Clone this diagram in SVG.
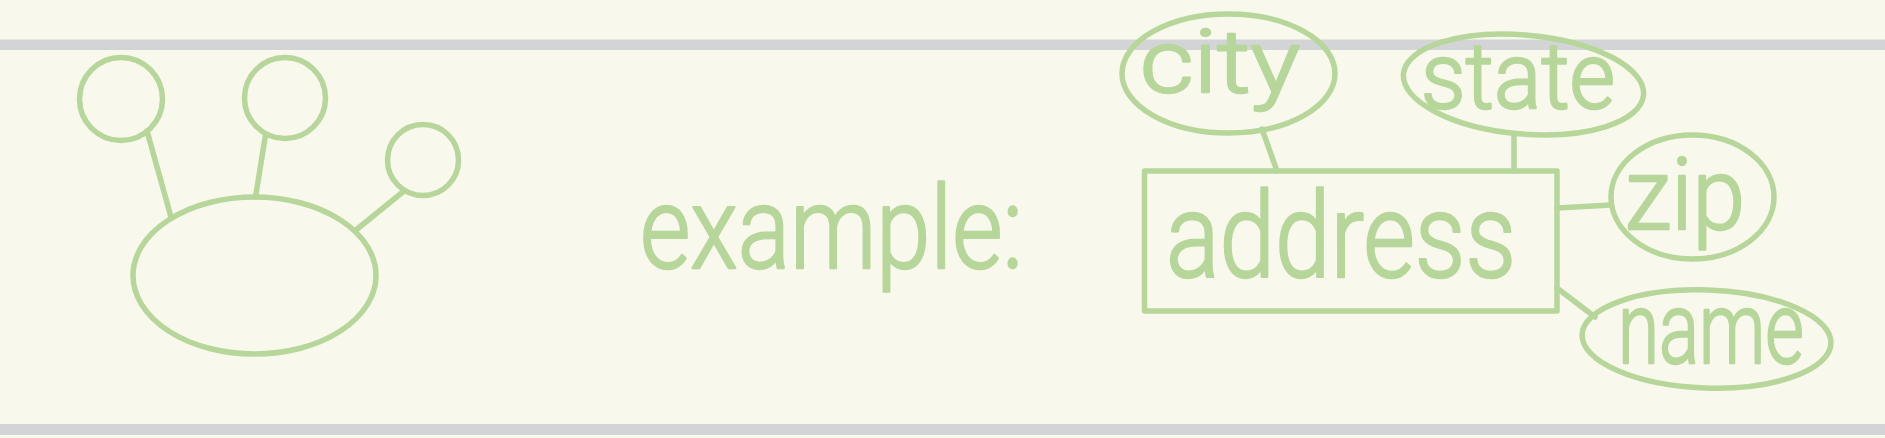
<svg xmlns="http://www.w3.org/2000/svg" width="1885" height="438" viewBox="0 0 1885 438">
<style>
.s{fill:none;stroke:#b6d69a;stroke-width:5.5;stroke-linecap:round;stroke-linejoin:round}
.t{fill:#b6d69a;stroke:#b6d69a;stroke-width:2.5;stroke-linejoin:round;font-family:Roboto,"Open Sans","Liberation Sans",sans-serif;font-weight:300}
.bar{fill:#d3d4d6}
</style>
<rect width="1885" height="438" fill="#f9f8ec"/>
<rect class="bar" x="0" y="39.5" width="1885" height="10.5"/>
<rect class="bar" x="0" y="424" width="1885" height="11"/>

<g id="connectors" class="s">
  <line x1="147" y1="131" x2="171" y2="217"/>
  <line x1="265.5" y1="135" x2="255.5" y2="197"/>
  <line x1="404" y1="191" x2="356" y2="230"/>
  <line x1="1262" y1="129" x2="1277" y2="171"/>
  <line x1="1514" y1="134" x2="1514" y2="171"/>
  <line x1="1557" y1="208" x2="1611" y2="205"/>
  <line x1="1557" y1="288" x2="1595" y2="317"/>
</g>

<g id="node-circle-1"><circle class="s" cx="121" cy="99" r="41.5"/></g>
<g id="node-circle-2"><circle class="s" cx="285" cy="98" r="40.5"/></g>
<g id="node-circle-3"><circle class="s" cx="423" cy="160" r="35.5"/></g>
<g id="node-ellipse-main"><ellipse class="s" cx="254.5" cy="275.5" rx="121.5" ry="78.5"/></g>

<g id="label-example"><text class="t" x="640" y="268" font-size="115" textLength="383" lengthAdjust="spacingAndGlyphs">example:</text></g>

<g id="node-address">
  <rect class="s" x="1144.5" y="171" width="412.5" height="140"/>
  <text class="t" x="1166" y="277" font-size="118" textLength="350" lengthAdjust="spacingAndGlyphs">address</text>
</g>
<g id="node-city">
  <ellipse class="s" cx="1228.5" cy="73.5" rx="106.5" ry="59.5"/>
  <text class="t" x="1140" y="92" font-size="88" textLength="160" lengthAdjust="spacingAndGlyphs">city</text>
</g>
<g id="node-state">
  <ellipse class="s" cx="1523.5" cy="84.5" rx="120.5" ry="49.5" transform="rotate(5 1523.5 84.5)"/>
  <text class="t" x="1421" y="108" font-size="92" textLength="194" lengthAdjust="spacingAndGlyphs">state</text>
</g>
<g id="node-zip">
  <ellipse class="s" cx="1692.5" cy="197" rx="81.5" ry="62"/>
  <text class="t" x="1625" y="229" font-size="100" textLength="120" lengthAdjust="spacingAndGlyphs">zip</text>
</g>
<g id="node-name">
  <ellipse class="s" cx="1706.5" cy="339" rx="124.5" ry="49" transform="rotate(2 1706.5 339)"/>
  <text class="t" x="1618" y="363" font-size="100" textLength="186" lengthAdjust="spacingAndGlyphs">name</text>
</g>
</svg>
